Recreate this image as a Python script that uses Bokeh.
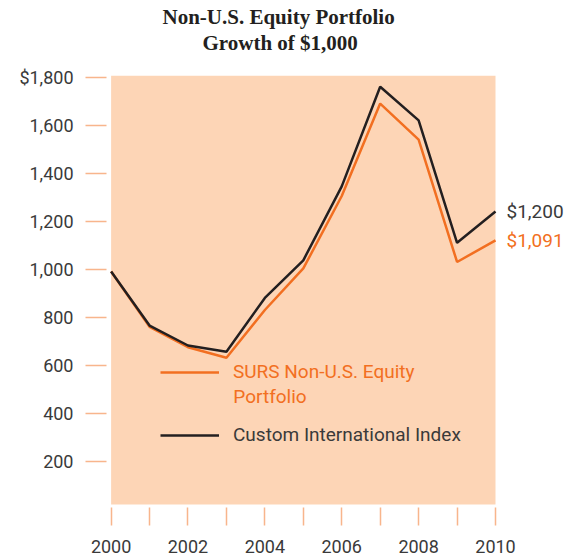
from bokeh.plotting import figure
from bokeh.models import (FixedTicker, BoxAnnotation, Legend, LegendItem, Label, Title, Range1d)
from bokeh.embed import file_html
from bokeh.resources import INLINE

# ---- data ----
years = [2000, 2001, 2002, 2003, 2004, 2005, 2006, 2007, 2008, 2009, 2010]
surs = [990, 760, 675, 631, 830, 1003, 1305, 1690, 1540, 1030, 1120]
index = [990, 765, 682, 656, 880, 1037, 1345, 1760, 1620, 1110, 1240]
y_ticks = [200, 400, 600, 800, 1000, 1200, 1400, 1600, 1800]
y_tick_labels = ["200", "400", "600", "800", "1,000", "1,200", "1,400", "1,600", "$1,800"]
x_tick_labels = ["2000", "", "2002", "", "2004", "", "2006", "", "2008", "", "2010"]
end_labels = ["$1,200", "$1,091"]
series_names = ["SURS Non-U.S. Equity", "Custom International Index"]
series_name_cont = "Portfolio"

ORANGE = "#F26F21"
BLACK = "#231F20"
PEACH = "#FDD5B6"
TICK = "#F8B58C"
TEXT = "#3A3A3A"
FONT = "Roboto"

p = figure(width=569, height=560, output_backend="svg", toolbar_location=None,
           x_range=Range1d(1999.88, 2011.925), y_range=Range1d(7, 1807),
           min_border_left=106, min_border_right=0, min_border_top=75,
           min_border_bottom=53)
p.outline_line_color = None
p.grid.grid_line_color = None
p.background_fill_color = "white"
p.border_fill_color = "white"

p.add_layout(BoxAnnotation(left=years[0], right=years[-1], bottom=20, top=1807,
                           fill_color=PEACH, fill_alpha=1, line_color=None, level="underlay"))

r_surs = p.line(years, surs, line_color=ORANGE, line_width=2.5)
r_idx = p.line(years, index, line_color=BLACK, line_width=2.5)

# axes
ya = p.yaxis[0]
ya.ticker = FixedTicker(ticks=y_ticks)
ya.major_label_overrides = {t: l for t, l in zip(y_ticks, y_tick_labels)}
ya.axis_line_color = None
ya.major_tick_line_color = TICK
ya.major_tick_line_width = 1.5
ya.major_tick_out = 21
ya.major_tick_in = 0
ya.minor_tick_line_color = None
ya.major_label_standoff = 12
ya.major_label_text_font = FONT
ya.major_label_text_font_size = "18px"
ya.major_label_text_color = TEXT

xa = p.xaxis[0]
xa.ticker = FixedTicker(ticks=years)
xa.major_label_overrides = {t: l for t, l in zip(years, x_tick_labels)}
xa.axis_line_color = None
xa.major_tick_line_color = TICK
xa.major_tick_line_width = 1.5
xa.major_tick_out = 18
xa.major_tick_in = 0
xa.minor_tick_line_color = None
xa.major_label_standoff = 14
xa.major_label_text_font = FONT
xa.major_label_text_font_size = "18px"
xa.major_label_text_color = TEXT

# legends (one per series so that label colours differ)
for r, name, col, loc in [(r_surs, series_names[0], ORANGE, (54, 124)),
                          (r_idx, series_names[1], TEXT, (54, 61))]:
    lg = Legend(items=[LegendItem(label=name, renderers=[r])], location=loc,
                padding=0, margin=0, border_line_color=None, background_fill_alpha=0,
                glyph_width=59, label_standoff=14, label_text_font=FONT,
                label_text_font_size="19px", label_text_color=col)
    p.add_layout(lg, "center")

p.add_layout(Label(x=2003.18, y=470, text=series_name_cont, text_baseline="middle",
                   text_font=FONT, text_font_size="19px", text_color=ORANGE))

# end labels
for v, txt, col in [(index[-1], end_labels[0], TEXT), (surs[-1], end_labels[1], ORANGE)]:
    p.add_layout(Label(x=years[-1], y=v, text=txt, x_offset=11, text_baseline="middle",
                       text_font=FONT, text_font_size="19px", text_color=col))

# titles (spacer first, nearest the frame)
p.add_layout(Title(text=" ", text_font_size="17px", standoff=0), "above")
p.add_layout(Title(text="Growth of $1,000", align="left", offset=96,
                   text_font="Liberation Serif", text_font_size="21px",
                   text_font_style="bold", text_color=BLACK, standoff=0), "above")
p.add_layout(Title(text="Non-U.S. Equity Portfolio", align="left", offset=56,
                   text_font="Liberation Serif", text_font_size="21px",
                   text_font_style="bold", text_color=BLACK, standoff=0), "above")

open("out.html", "w").write(file_html(p, INLINE))
